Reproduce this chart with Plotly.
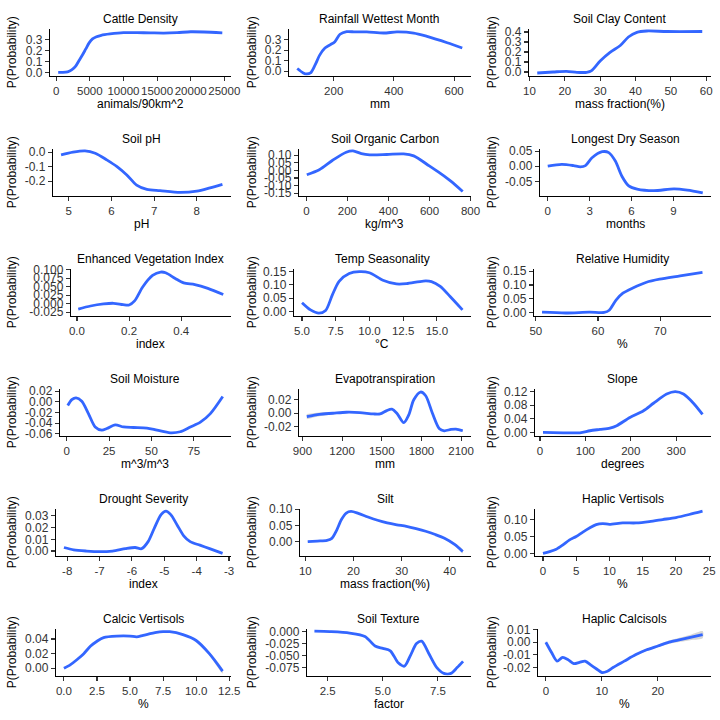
import plotly.graph_objects as go

# ---- values (partial dependence curves) ----
cattle_x = [300, 1000, 1700, 2300, 2900, 3400, 3900, 4400, 4900, 5400, 6000, 6700, 8000,
            10000, 12000, 14000, 16000, 18000, 20000, 22000, 24700]
cattle_y = [0.003, 0.003, 0.008, 0.025, 0.06, 0.11, 0.16, 0.215, 0.27, 0.305, 0.325, 0.338,
            0.35, 0.362, 0.362, 0.36, 0.358, 0.362, 0.37, 0.368, 0.36]

rain_x = [79, 99, 110, 123, 138, 154, 171, 188, 204, 221, 243, 271, 310, 366, 410, 466, 510, 577, 627]
rain_y = [0.026, -0.016, -0.026, -0.016, 0.058, 0.155, 0.22, 0.25, 0.28, 0.35, 0.375, 0.372,
          0.372, 0.362, 0.372, 0.362, 0.33, 0.27, 0.22]

clay_x = [12.2, 16.7, 20.5, 23.4, 26.2, 27.6, 30, 32.8, 35.7, 38, 40.4, 43.2, 48.9, 58.9]
clay_y = [-0.01, 0.0, 0.007, -0.003, -0.003, 0.014, 0.11, 0.197, 0.265, 0.35, 0.397, 0.41, 0.405, 0.405]

ph_x = [4.82, 5.1, 5.38, 5.62, 5.89, 6.13, 6.36, 6.59, 6.83, 7.14, 7.61, 8.0, 8.31, 8.6]
ph_y = [-0.019, 0.0, 0.009, -0.007, -0.053, -0.1, -0.158, -0.228, -0.258, -0.267, -0.279,
        -0.27, -0.247, -0.223]

soc_x = [2, 63, 128, 194, 227, 268, 309, 392, 474, 523, 599, 655, 704, 762]
soc_y = [-0.029, 0.004, 0.066, 0.119, 0.128, 0.11, 0.102, 0.104, 0.108, 0.095, 0.029, -0.022,
         -0.071, -0.139]

dry_x = [0, 1.0, 1.85, 2.33, 2.7, 3.17, 3.9, 4.37, 4.84, 5.32, 5.8, 6.4, 7.6, 9.04, 10.0, 11.1]
dry_y = [0.0, 0.006, 0.002, -0.002, 0.002, 0.028, 0.048, 0.045, 0.017, -0.034, -0.065, -0.076,
         -0.081, -0.075, -0.079, -0.088]

evi_x = [0.005, 0.052, 0.102, 0.14, 0.177, 0.2, 0.221, 0.252, 0.29, 0.321, 0.34, 0.377, 0.409,
         0.452, 0.502, 0.561]
evi_y = [-0.016, -0.007, -0.001, 0.001, -0.003, -0.004, 0.008, 0.049, 0.083, 0.093, 0.091,
         0.074, 0.061, 0.056, 0.045, 0.027]

temp_x = [5.0, 5.63, 6.25, 6.75, 7.25, 7.75, 8.5, 9.25, 10.0, 11.0, 12.0, 12.75, 14.0, 14.6,
          15.25, 16.0, 16.9]
temp_y = [0.033, 0.006, -0.006, 0.004, 0.062, 0.113, 0.142, 0.149, 0.145, 0.117, 0.103, 0.104,
          0.114, 0.112, 0.094, 0.055, 0.006]

rh_x = [51, 54.8, 58.6, 61, 61.8, 62.9, 64, 65.6, 67.8, 69.9, 73.2, 76.8]
rh_y = [0.001, -0.002, 0.001, 0.0, 0.008, 0.045, 0.07, 0.089, 0.11, 0.121, 0.133, 0.146]

sm_x = [0.6, 3, 5.5, 8.9, 12.8, 16.8, 20.7, 23.7, 28.6, 33.5, 39.4, 47.3, 53.3, 61.1, 67, 73,
        78.9, 84.8, 92.1]
sm_y = [-0.007, 0.004, 0.0075, 0.001, -0.022, -0.047, -0.053, -0.05, -0.043, -0.047, -0.048,
        -0.049, -0.053, -0.058, -0.056, -0.047, -0.038, -0.022, 0.01]

et_x = [933, 1028, 1130, 1232, 1334, 1436, 1487, 1538, 1576, 1614, 1666, 1704, 1742, 1793,
        1832, 1883, 1934, 1972, 2023, 2061, 2112]
et_y = [-0.005, -0.0015, 0.0, 0.0015, 0.001, -0.001, -0.001, 0.004, 0.006, 0.0, -0.014,
        -0.0025, 0.02, 0.0315, 0.026, 0.0, -0.0225, -0.026, -0.024, -0.0235, -0.026]
et_se = [0.004, 0.0028, 0.0017, 0.0012, 0.001, 0.0009, 0.0008, 0.0008, 0.0008, 0.0008, 0.0008,
         0.0008, 0.0008, 0.0008, 0.0008, 0.0008, 0.0008, 0.0008, 0.0009, 0.001, 0.0013]

slope_x = [6.6, 51, 88, 110, 132, 154, 169, 198, 228, 250, 279, 298, 316, 338, 358]
slope_y = [0.0, -0.001, -0.001, 0.005, 0.009, 0.013, 0.02, 0.044, 0.064, 0.086, 0.113, 0.12,
           0.113, 0.086, 0.053]

drought_x = [-8.1, -7.8, -7.4, -7.0, -6.6, -6.2, -5.9, -5.7, -5.5, -5.3, -5.1, -4.95, -4.8,
             -4.6, -4.4, -4.2, -3.9, -3.6, -3.2]
drought_y = [0.003, 0.001, 0.0, -0.0005, 0.0, 0.002, 0.003, 0.002, 0.008, 0.02, 0.031, 0.034,
             0.031, 0.022, 0.013, 0.008, 0.005, 0.002, -0.002]

silt_x = [10.5, 12.5, 14.5, 15.5, 16.5, 17.5, 18.5, 19.5, 21, 23, 25, 27, 29, 31, 33, 35, 37,
          39, 41, 42.7]
silt_y = [0.0, 0.002, 0.004, 0.01, 0.035, 0.068, 0.088, 0.093, 0.087, 0.076, 0.066, 0.058,
          0.052, 0.047, 0.04, 0.032, 0.022, 0.01, -0.008, -0.03]
silt_se = [0.002, 0.001, 0.001, 0.001, 0.001, 0.001, 0.001, 0.001, 0.001, 0.001, 0.001, 0.001,
           0.001, 0.001, 0.001, 0.0015, 0.002, 0.003, 0.004, 0.006]

hv_x = [0, 1, 2, 3, 4, 5, 6, 7, 8, 9, 10, 12, 14, 16, 18, 20, 22, 24]
hv_y = [0.0, 0.005, 0.012, 0.025, 0.04, 0.05, 0.063, 0.075, 0.085, 0.088, 0.086, 0.09, 0.09,
        0.094, 0.1, 0.106, 0.115, 0.125]

cv_x = [0, 0.5, 1, 1.5, 2, 2.5, 3, 4, 5, 5.5, 6, 7, 7.5, 8, 9, 10, 11, 12]
cv_y = [0.0, 0.005, 0.012, 0.02, 0.03, 0.037, 0.042, 0.044, 0.044, 0.043, 0.045, 0.049, 0.05,
        0.05, 0.046, 0.038, 0.02, -0.004]
cv_se = [0.001, 0.0008, 0.0006, 0.0006, 0.0006, 0.0006, 0.0006, 0.0006, 0.0006, 0.0006, 0.0006,
         0.0006, 0.0007, 0.0008, 0.001, 0.0015, 0.0022, 0.003]

tex_x = [1.9, 2.6, 3.5, 4.19, 4.65, 5.0, 5.34, 5.7, 5.98, 6.25, 6.53, 6.76, 7.08, 7.45, 7.77,
         8.09, 8.37, 8.64]
tex_y = [0.001, 0.0, -0.003, -0.01, -0.03, -0.035, -0.04, -0.065, -0.072, -0.05, -0.025, -0.02,
         -0.045, -0.075, -0.087, -0.087, -0.075, -0.062]

hc_x = [0, 1, 2, 3, 4, 5, 6, 7, 8, 9, 10, 11, 12, 14, 16, 18, 20, 22, 24, 26, 28]
hc_y = [0.0, -0.008, -0.015, -0.012, -0.014, -0.017, -0.016, -0.015, -0.018, -0.021, -0.024,
        -0.023, -0.02, -0.015, -0.01, -0.006, -0.003, 0.0, 0.002, 0.004, 0.006]
hc_se = [0.001, 0.0008, 0.0007, 0.0007, 0.0007, 0.0007, 0.0007, 0.0007, 0.0007, 0.0007, 0.0007,
         0.0007, 0.0007, 0.0007, 0.0008, 0.0009, 0.001, 0.0013, 0.0017, 0.0022, 0.0028]

# panel titles, x-axis labels, tick values / tick labels
titles = ["Cattle Density", "Rainfall Wettest Month", "Soil Clay Content",
          "Soil pH", "Soil Organic Carbon", "Longest Dry Season",
          "Enhanced Vegetation Index", "Temp Seasonality", "Relative Humidity",
          "Soil Moisture", "Evapotranspiration", "Slope",
          "Drought Severity", "Silt", "Haplic Vertisols",
          "Calcic Vertisols", "Soil Texture", "Haplic Calcisols"]
xlabels = ["animals/90km^2", "mm", "mass fraction(%)",
           "pH", "kg/m^3", "months",
           "index", "°C", "%",
           "m^3/m^3", "mm", "degrees",
           "index", "mass fraction(%)", "%",
           "%", "factor", "%"]

xticks = [
    ([0, 5000, 10000, 15000, 20000, 25000], ["0", "5000", "10000", "15000", "20000", "25000"]),
    ([200, 400, 600], ["200", "400", "600"]),
    ([10, 20, 30, 40, 50, 60], ["10", "20", "30", "40", "50", "60"]),
    ([5, 6, 7, 8], ["5", "6", "7", "8"]),
    ([0, 200, 400, 600, 800], ["0", "200", "400", "600", "800"]),
    ([0, 3, 6, 9], ["0", "3", "6", "9"]),
    ([0, 0.2, 0.4, 0.6], ["0.0", "0.2", "0.4", "0.6"]),
    ([5, 7.5, 10, 12.5, 15, 17.5], ["5.0", "7.5", "10.0", "12.5", "15.0", "17.5"]),
    ([50, 60, 70], ["50", "60", "70"]),
    ([0, 25, 50, 75], ["0", "25", "50", "75"]),
    ([900, 1200, 1500, 1800, 2100], ["900", "1200", "1500", "1800", "2100"]),
    ([0, 100, 200, 300], ["0", "100", "200", "300"]),
    ([-8, -7, -6, -5, -4, -3], ["-8", "-7", "-6", "-5", "-4", "-3"]),
    ([10, 20, 30, 40], ["10", "20", "30", "40"]),
    ([0, 5, 10, 15, 20, 25], ["0", "5", "10", "15", "20", "25"]),
    ([0, 2.5, 5, 7.5, 10, 12.5], ["0.0", "2.5", "5.0", "7.5", "10.0", "12.5"]),
    ([2.5, 5, 7.5], ["2.5", "5.0", "7.5"]),
    ([0, 10, 20], ["0", "10", "20"]),
]
yticks = [
    ([0, 0.1, 0.2, 0.3], ["0.0", "0.1", "0.2", "0.3"]),
    ([0, 0.1, 0.2, 0.3], ["0.0", "0.1", "0.2", "0.3"]),
    ([0, 0.1, 0.2, 0.3, 0.4], ["0.0", "0.1", "0.2", "0.3", "0.4"]),
    ([-0.2, -0.1, 0.0], ["-0.2", "-0.1", "0.0"]),
    ([-0.15, -0.1, -0.05, 0, 0.05, 0.1], ["-0.15", "-0.10", "-0.05", "0.00", "0.05", "0.10"]),
    ([-0.05, 0, 0.05], ["-0.05", "0.00", "0.05"]),
    ([-0.025, 0, 0.025, 0.05, 0.075, 0.1], ["-0.025", "0.000", "0.025", "0.050", "0.075", "0.100"]),
    ([0, 0.05, 0.1, 0.15], ["0.00", "0.05", "0.10", "0.15"]),
    ([0, 0.05, 0.1, 0.15], ["0.00", "0.05", "0.10", "0.15"]),
    ([-0.06, -0.04, -0.02, 0, 0.02], ["-0.06", "-0.04", "-0.02", "0.00", "0.02"]),
    ([-0.02, 0, 0.02], ["-0.02", "0.00", "0.02"]),
    ([0, 0.04, 0.08, 0.12], ["0.00", "0.04", "0.08", "0.12"]),
    ([0, 0.01, 0.02, 0.03], ["0.00", "0.01", "0.02", "0.03"]),
    ([-0.05, 0, 0.05, 0.1], ["-0.05", "0.00", "0.05", "0.10"]),
    ([0, 0.05, 0.1], ["0.00", "0.05", "0.10"]),
    ([0, 0.02, 0.04], ["0.00", "0.02", "0.04"]),
    ([-0.075, -0.05, -0.025, 0], ["-0.075", "-0.050", "-0.025", "0.000"]),
    ([-0.02, -0.01, 0, 0.01], ["-0.02", "-0.01", "0.00", "0.01"]),
]

# y-axis limits as drawn in the reference (None -> data range + 5%)
ylims = [
    [-0.025, 0.395], [-0.04, 0.40], [-0.035, 0.43],
    [-0.30, 0.022], [-0.165, 0.14], [-0.097, 0.057],
    [-0.035, 0.102], [-0.015, 0.159], [-0.011, 0.158],
    [-0.063, 0.024], [-0.033, 0.036], [-0.009, 0.128],
    None, None, None,
    None, None, None,
]

series = [
    (cattle_x, cattle_y, None), (rain_x, rain_y, None), (clay_x, clay_y, None),
    (ph_x, ph_y, None), (soc_x, soc_y, None), (dry_x, dry_y, None),
    (evi_x, evi_y, None), (temp_x, temp_y, None), (rh_x, rh_y, None),
    (sm_x, sm_y, None), (et_x, et_y, et_se), (slope_x, slope_y, None),
    (drought_x, drought_y, None), (silt_x, silt_y, silt_se), (hv_x, hv_y, None),
    (cv_x, cv_y, cv_se), (tex_x, tex_y, None), (hc_x, hc_y, hc_se),
]

# left edge of each panel's plotting area (px inside its 240px cell)
lefts = [[50, 49, 49], [53, 59, 60], [71, 54, 54], [60, 59, 55], [56, 60, 55], [56, 67, 58]]

FONT = "Liberation Sans, Arial, sans-serif"
BLUE = "#3366FF"
S = 720.0


def expand(lo, hi, f=0.05):
    d = (hi - lo) * f
    return [lo - d, hi + d]


fig = go.Figure()
layout = {}
annotations = []

for i, (xs, ys, se) in enumerate(series):
    r, c = divmod(i, 3)
    n = "" if i == 0 else str(i + 1)
    x0 = 240 * c + lefts[r][c]
    x1 = 240 * c + 230.5
    ytop = 120 * r + 29
    ybot = 120 * r + 75.5

    if se:
        upper = [y + s for y, s in zip(ys, se)]
        lower = [y - s for y, s in zip(ys, se)]
        fig.add_trace(go.Scatter(
            x=list(xs) + list(xs)[::-1], y=upper + lower[::-1],
            fill="toself", fillcolor="rgba(153,153,153,0.4)",
            line=dict(width=0, shape="spline", smoothing=0.8),
            mode="lines", hoverinfo="skip", showlegend=False,
            xaxis="x" + n, yaxis="y" + n,
        ))
    else:
        upper = lower = ys

    fig.add_trace(go.Scatter(
        x=xs, y=ys, mode="lines",
        line=dict(color=BLUE, width=2.8, shape="spline", smoothing=0.8),
        showlegend=False, xaxis="x" + n, yaxis="y" + n,
    ))

    axis_common = dict(
        showgrid=False, zeroline=False, showline=True, linecolor="black", linewidth=1.2,
        ticks="outside", ticklen=4, tickwidth=1.1, tickcolor="#333333", tickangle=0,
        automargin=False,
    )
    layout["xaxis" + n] = dict(
        domain=[x0 / S, x1 / S], anchor="y" + n,
        range=expand(min(xs), max(xs)),
        tickmode="array", tickvals=xticks[i][0], ticktext=xticks[i][1],
        tickfont=dict(family=FONT, size=11.5, color="#333333"),
        **axis_common,
    )
    layout["yaxis" + n] = dict(
        domain=[(S - ybot) / S, (S - ytop) / S], anchor="x" + n,
        range=ylims[i] if ylims[i] else expand(min(lower), max(upper)),
        tickmode="array", tickvals=yticks[i][0], ticktext=yticks[i][1],
        tickfont=dict(family=FONT, size=12, color="#333333"),
        **axis_common,
    )

    # panel title, x label, y label
    annotations.append(dict(
        text=titles[i], x=(x0 + x1) / 2 / S, y=(S - (120 * r + 19)) / S,
        xref="paper", yref="paper", xanchor="center", yanchor="middle", showarrow=False,
        font=dict(family=FONT, size=12, color="black"),
    ))
    annotations.append(dict(
        text=xlabels[i], x=(x0 + x1) / 2 / S, y=(S - (120 * r + 104)) / S,
        xref="paper", yref="paper", xanchor="center", yanchor="middle", showarrow=False,
        font=dict(family=FONT, size=12, color="black"),
    ))
    annotations.append(dict(
        text="P(Probability)", x=(240 * c + 12) / S, y=(S - (ytop + ybot) / 2) / S,
        xref="paper", yref="paper", xanchor="center", yanchor="middle", showarrow=False,
        textangle=-90, font=dict(family=FONT, size=12, color="black"),
    ))

fig.update_layout(
    template="none",
    width=720, height=720,
    margin=dict(l=0, r=0, t=0, b=0, autoexpand=False),
    plot_bgcolor="white", paper_bgcolor="white",
    hovermode=False,
    annotations=annotations,
    **layout,
)

# drop the browser's default 8px body margin so the 720px figure fills the window
fig.write_html(
    "out.html",
    config={"displayModeBar": False, "staticPlot": True},
    post_script="document.body.style.margin = '0';",
)
